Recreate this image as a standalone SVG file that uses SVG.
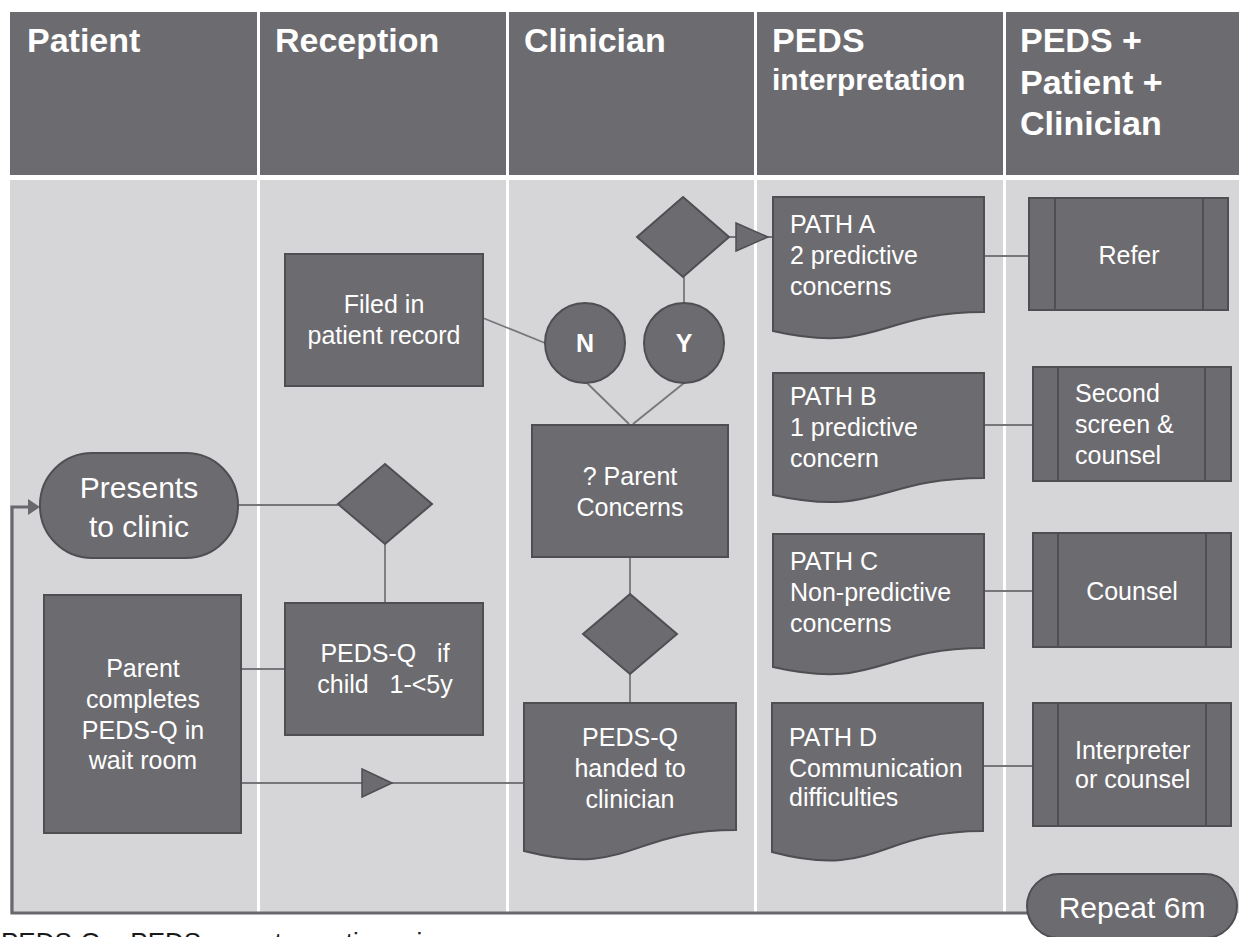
<svg xmlns="http://www.w3.org/2000/svg" width="1239" height="937" viewBox="0 0 1239 937">
<defs>
<style>
.hdr{fill:#6c6b70}
.body{fill:#d6d6d8}
.sep{stroke:#ffffff;stroke-width:3}
.node{fill:#6c6b70;stroke:#4f4e52;stroke-width:2}
.inner{stroke:#4f4e52;stroke-width:2;fill:none}
.con{stroke:#77767a;stroke-width:1.8;fill:none}
.loop{stroke:#69686c;stroke-width:3.2;fill:none}
.tri{fill:#6c6b70;stroke:#4f4e52;stroke-width:1.5}
.ht{font-family:"Liberation Sans",Arial,sans-serif;font-weight:bold;font-size:34px;fill:#ffffff}
.t{font-family:"Liberation Sans",Arial,sans-serif;font-size:25px;fill:#ffffff}
.tc{font-family:"Liberation Sans",Arial,sans-serif;font-size:25px;fill:#ffffff;text-anchor:middle}
.big{font-family:"Liberation Sans",Arial,sans-serif;font-size:30px;fill:#ffffff;text-anchor:middle}
.yn{font-family:"Liberation Sans",Arial,sans-serif;font-size:25px;font-weight:bold;fill:#ffffff;text-anchor:middle}
</style>
</defs>
<rect x="0" y="0" width="1239" height="937" fill="#ffffff"/>
<g id="lanes">
<rect class="hdr" x="10" y="12" width="1229" height="163"/>
<rect class="body" x="10" y="180" width="1229" height="733"/>
<line class="sep" x1="258.5" y1="12" x2="258.5" y2="913"/>
<line class="sep" x1="507.5" y1="12" x2="507.5" y2="913"/>
<line class="sep" x1="755.5" y1="12" x2="755.5" y2="913"/>
<line class="sep" x1="1004.5" y1="12" x2="1004.5" y2="913"/>
<text class="ht" x="27" y="52">Patient</text>
<text class="ht" x="275" y="52">Reception</text>
<text class="ht" x="524" y="52">Clinician</text>
<text class="ht" x="772" y="52">PEDS</text>
<text class="ht" x="772" y="90" style="font-size:30px">interpretation</text>
<text class="ht" x="1020" y="52">PEDS +</text>
<text class="ht" x="1020" y="94">Patient +</text>
<text class="ht" x="1020" y="135">Clinician</text>
</g>
<g id="connectors">
<line class="con" x1="238" y1="505" x2="338" y2="505"/>
<line class="con" x1="385" y1="544" x2="385" y2="603"/>
<line class="con" x1="241" y1="669" x2="285" y2="669"/>
<line class="con" x1="241" y1="783" x2="524" y2="783"/>
<polygon class="tri" points="362,769 392,783 362,797"/>
<line class="con" x1="630" y1="557" x2="630" y2="594"/>
<line class="con" x1="630" y1="674" x2="630" y2="703"/>
<line class="con" x1="587" y1="383" x2="629" y2="424"/>
<line class="con" x1="684" y1="383" x2="633" y2="424"/>
<line class="con" x1="483" y1="318" x2="545" y2="343"/>
<line class="con" x1="684" y1="303" x2="684" y2="277"/>
<line class="con" x1="729" y1="237" x2="773" y2="237"/>
<polygon class="tri" points="736,223 768,237 736,251"/>
<line class="con" x1="984" y1="256" x2="1029" y2="256"/>
<line class="con" x1="984" y1="425" x2="1033" y2="425"/>
<line class="con" x1="984" y1="591" x2="1033" y2="591"/>
<line class="con" x1="983" y1="766" x2="1033" y2="766"/>
<polyline class="loop" points="1030,913 12,913 12,507 30,507"/>
<polygon fill="#69686c" points="28,499 40,507 28,515"/>
</g>
<g id="presents">
<rect class="node" x="40" y="453" width="198" height="105" rx="52" ry="52"/>
<text class="big" x="139" y="498">Presents</text>
<text class="big" x="139" y="537">to clinic</text>
</g>
<g id="parent-completes">
<rect class="node" x="44" y="595" width="197" height="238"/>
<text class="tc" x="143" y="677">Parent</text>
<text class="tc" x="143" y="708">completes</text>
<text class="tc" x="143" y="739">PEDS-Q in</text>
<text class="tc" x="143" y="769">wait room</text>
</g>
<g id="reception-decision">
<polygon class="node" points="385,464 432,504 385,544 338,504"/>
</g>
<g id="pedsq-if">
<rect class="node" x="285" y="603" width="198" height="132"/>
<text class="tc" x="385" y="662" xml:space="preserve">PEDS-Q   if</text>
<text class="tc" x="385" y="693" xml:space="preserve">child   1-&lt;5y</text>
</g>
<g id="filed">
<rect class="node" x="285" y="254" width="198" height="132"/>
<text class="tc" x="384" y="313">Filed in</text>
<text class="tc" x="384" y="344">patient record</text>
</g>
<g id="no">
<circle class="node" cx="585" cy="343" r="40"/>
<text class="yn" x="585" y="352">N</text>
</g>
<g id="yes">
<circle class="node" cx="684" cy="343" r="40"/>
<text class="yn" x="684" y="352">Y</text>
</g>
<g id="top-decision">
<polygon class="node" points="683,197 729,237 683,277 637,237"/>
</g>
<g id="parent-concerns">
<rect class="node" x="532" y="425" width="196" height="132"/>
<text class="tc" x="630" y="485">? Parent</text>
<text class="tc" x="630" y="516">Concerns</text>
</g>
<g id="clinician-decision">
<polygon class="node" points="630,594 677,634 630,674 583,634"/>
</g>
<g id="handed">
<path class="node" d="M524,703 H736 V830 C630,830 630,878 524,851 Z"/>
<text class="tc" x="630" y="746">PEDS-Q</text>
<text class="tc" x="630" y="777">handed to</text>
<text class="tc" x="630" y="808">clinician</text>
</g>
<g id="path-a">
<path class="node" d="M773,197 H984 V312 C878,312 878,355 773,331 Z"/>
<text class="t" x="790" y="233">PATH A</text>
<text class="t" x="790" y="264">2 predictive</text>
<text class="t" x="790" y="295">concerns</text>
</g>
<g id="path-b">
<path class="node" d="M773,373 H984 V478 C878,478 878,518 773,495 Z"/>
<text class="t" x="790" y="405">PATH B</text>
<text class="t" x="790" y="436">1 predictive</text>
<text class="t" x="790" y="467">concern</text>
</g>
<g id="path-c">
<path class="node" d="M773,534 H984 V648 C878,648 878,691 773,667 Z"/>
<text class="t" x="790" y="570">PATH C</text>
<text class="t" x="790" y="601">Non-predictive</text>
<text class="t" x="790" y="632">concerns</text>
</g>
<g id="path-d">
<path class="node" d="M772,703 H983 V831 C877,831 877,880 772,852 Z"/>
<text class="t" x="789" y="746">PATH D</text>
<text class="t" x="789" y="777">Communication</text>
<text class="t" x="789" y="806">difficulties</text>
</g>
<g id="refer">
<rect class="node" x="1029" y="198" width="199" height="112"/>
<line class="inner" x1="1055" y1="198" x2="1055" y2="310"/>
<line class="inner" x1="1203" y1="198" x2="1203" y2="310"/>
<text class="tc" x="1129" y="264">Refer</text>
</g>
<g id="second-screen">
<rect class="node" x="1033" y="367" width="198" height="114"/>
<line class="inner" x1="1058" y1="367" x2="1058" y2="481"/>
<line class="inner" x1="1205" y1="367" x2="1205" y2="481"/>
<text class="t" x="1075" y="402">Second</text>
<text class="t" x="1075" y="433">screen &amp;</text>
<text class="t" x="1075" y="464">counsel</text>
</g>
<g id="counsel">
<rect class="node" x="1033" y="533" width="198" height="114"/>
<line class="inner" x1="1058" y1="533" x2="1058" y2="647"/>
<line class="inner" x1="1206" y1="533" x2="1206" y2="647"/>
<text class="tc" x="1132" y="600">Counsel</text>
</g>
<g id="interpreter">
<rect class="node" x="1033" y="703" width="198" height="123"/>
<line class="inner" x1="1058" y1="703" x2="1058" y2="826"/>
<line class="inner" x1="1206" y1="703" x2="1206" y2="826"/>
<text class="t" x="1075" y="759">Interpreter</text>
<text class="t" x="1075" y="788">or counsel</text>
</g>
<g id="repeat">
<rect class="node" x="1027" y="874" width="210" height="64" rx="32" ry="32"/>
<text class="big" x="1132" y="918">Repeat 6m</text>
</g>
<text x="1" y="951" font-family="Liberation Sans, Arial, sans-serif" font-size="26" fill="#1a1a1a">PEDS-Q = PEDS parent questionnaire</text>
</svg>
